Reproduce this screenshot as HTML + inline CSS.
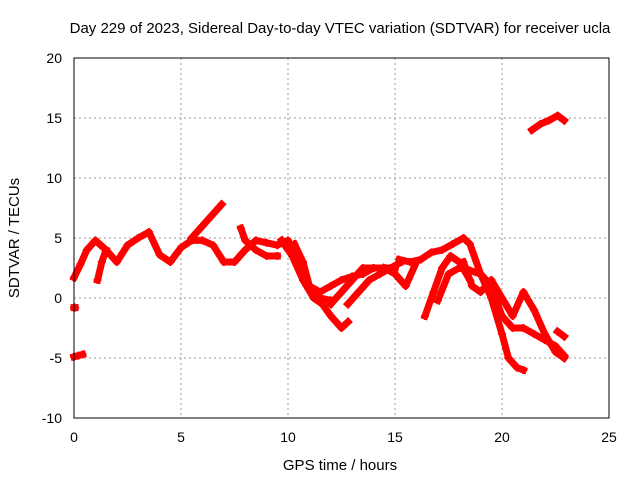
<!DOCTYPE html>
<html><head><meta charset="utf-8"><style>
body{margin:0;background:#fff;}
svg{display:block;font-family:"Liberation Sans",sans-serif;}
</style></head><body>
<svg id="chart" width="640" height="480">
<text x="340" y="33" font-size="15" text-anchor="middle">Day 229 of 2023, Sidereal Day-to-day VTEC variation (SDTVAR) for receiver ucla</text>
<text x="340" y="470" font-size="15" text-anchor="middle">GPS time / hours</text>
<text transform="translate(19,238) rotate(-90)" font-size="15" text-anchor="middle">SDTVAR / TECUs</text>
<g id="grid"></g><g id="series"></g>
<rect x="74" y="58" width="535" height="360" fill="none" stroke="#000"/>
</svg>
<script>
const xTicks=[0,5,10,15,20,25];
const yTicks=[-10,-5,0,5,10,15,20];
const trackHours=[
[0,0.3,0.6,1,1.5,2,2.5,3,3.5,4,4.5,5,5.5,6,6.5,7,7.5,8,8.5,9,9.5,10,10.5,11,11.5,12],
[5.5,6,6.5,6.9],
[1.1,1.3,1.5],
[7.8,8,8.5,9,9.5],
[9.7,10.2,10.7,11.2,11.6,12,12.5,12.8],
[10.3,10.7,11,11.5,12,12.5,13,13.5,14,14.5,15],
[12,12.5,13,13.5,14],
[12.8,13.3,13.8,14.3,14.8,15.3],
[15.2,15.7,16.2,16.7,17.2,17.7,18.2,18.5,19,19.5,20,20.3,20.7,21],
[16.4,16.8,17.2,17.6,18,18.5],
[17,17.5,18,18.5,19,19.5,20,20.5,21,21.5,22,22.5,22.9],
[18.2,18.6,19,19.5,20,20.5,21,21.5,22,22.5,22.9],
[21.4,21.8,22.2,22.6,22.9],
[0,0.05],
[0,0.2,0.4],
[22.6,22.9],
[14.5,15,15.5,16]
];
const trackValues=[
[1.7,2.8,4,4.8,4,3,4.4,5,5.5,3.6,3,4.2,4.8,4.8,4.4,3,3,4,4.8,4.6,4.4,4.8,3,1,0,-0.2],
[5,6,7,7.8],
[1.5,3,4],
[5.8,4.8,4,3.5,3.5],
[4.8,3.5,1.5,0,-0.5,-1.5,-2.5,-2],
[4.5,3,1,0.5,1,1.5,1.8,2,2.5,2.5,2.5],
[-0.5,0.5,1.5,2.5,2.5],
[-0.5,0.5,1.5,2,2.5,3],
[3.2,3,3.2,3.8,4,4.5,5,4.5,2,0,-3,-5,-5.8,-6],
[-1.5,0.5,2.5,3.5,3,1.5],
[-0.2,2,2.5,2.3,2,1,-1.5,-2.5,-2.5,-3,-3.5,-4,-4.8],
[3,1,0.5,1.5,0,-1.5,0.5,-1,-3,-4.5,-5],
[14,14.5,14.8,15.2,14.8],
[-0.8,-0.8],
[-4.9,-4.8,-4.7],
[-2.8,-3.2],
[2.5,2,1,3]
];
const NS="http://www.w3.org/2000/svg";
const xs=h=>74+h*21.4, ys=v=>298-v*12;
const grid=document.getElementById('grid'), ser=document.getElementById('series');
function mk(t,a,p){const e=document.createElementNS(NS,t);for(const k in a)e.setAttribute(k,a[k]);p.appendChild(e);return e;}
xTicks.forEach(t=>{
  const x=xs(t);
  if(t>0&&t<25){const l=mk('line',{x1:x,x2:x,y1:58,y2:418,stroke:'#999','stroke-dasharray':'2,3'},grid);
  
  }
  const tx=mk('text',{x:x,y:442,'font-size':14,'text-anchor':'middle'},grid);tx.textContent=t;
  
  
});
yTicks.forEach(t=>{
  const y=ys(t);
  if(t>-10&&t<20){const l=mk('line',{x1:74,x2:609,y1:y,y2:y,stroke:'#999','stroke-dasharray':'2,3'},grid);
  
  }
  const tx=mk('text',{x:62,y:y+5,'font-size':14,'text-anchor':'end'},grid);tx.textContent=t;
  
  
});
trackHours.forEach((hs,i)=>{
  const vs=trackValues[i];
  const pts=hs.map((h,j)=>xs(h)+','+ys(vs[j])).join(' ');
  const pl=mk('polyline',{points:pts,fill:'none',stroke:'#f00','stroke-width':7,'stroke-linejoin':'round','stroke-linecap':'square'},ser);
  
  
  hs.forEach((h,j)=>{
    const x=xs(h),y=ys(vs[j]);
    const p=mk('path',{d:`M${x-4},${y}H${x+4}M${x},${y-4}V${y+4}`,stroke:'#f00','stroke-width':2},ser);
    
    
  });
});
</script>
</body></html>
